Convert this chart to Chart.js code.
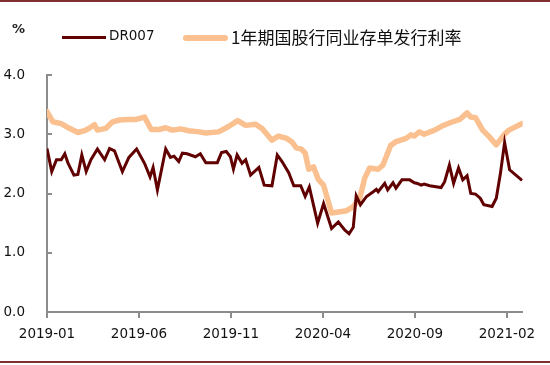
<!DOCTYPE html>
<html>
<head>
<meta charset="utf-8">
<script src="https://cdn.jsdelivr.net/npm/chart.js@4"></script>
<style>
  body { margin: 0; background: #fff; }
  #wrap { position: relative; width: 550px; height: 365px; overflow: hidden; }
  #wrap:before, #wrap:after { content: ""; position: absolute; left: 0; width: 550px; height: 2px; background: #7e2f2f; }
  #wrap:before { top: 0; }
  #wrap:after { top: 361px; }
  .unit { position: absolute; left: 12px; top: 21px; font: bold 13px "DejaVu Sans", sans-serif; color: #222; }
  .key { position: absolute; top: 27px; font: 13.5px "DejaVu Sans", sans-serif; color: #111; }
  .key i { position: absolute; top: 8px; height: 4px; }
  .cn { font: 17px "Noto Sans CJK SC", sans-serif; top: 24px; }
</style>
</head>
<body>
<div id="wrap">
  <canvas id="lineChart" width="550" height="365"></canvas>
  <div class="unit">%</div>
  <div class="key" style="left:62px"><i style="left:0;width:44px;background:#600000;height:3px;top:9px"></i><span style="margin-left:47px">DR007</span></div>
  <div class="key cn" style="left:183px"><i style="left:0;width:45px;background:#fac090;height:6px;top:11px;border-radius:3px"></i><span style="margin-left:48px">1年期国股行同业存单发行利率</span></div>
</div>
<script>
// DR007 (weekly)
const drDates = ["2019-01-01","2019-01-09","2019-01-17","2019-01-25","2019-01-31","2019-02-05","2019-02-14","2019-02-20","2019-02-26","2019-03-05","2019-03-13","2019-03-24","2019-04-05","2019-04-13","2019-04-21","2019-05-04","2019-05-15","2019-05-28","2019-06-10","2019-06-19","2019-06-24","2019-07-01","2019-07-15","2019-07-23","2019-07-29","2019-08-06","2019-08-12","2019-08-20","2019-09-03","2019-09-11","2019-09-20","2019-10-09","2019-10-16","2019-10-24","2019-10-31","2019-11-05","2019-11-11","2019-11-19","2019-11-25","2019-12-03","2019-12-17","2019-12-26","2020-01-08","2020-01-17","2020-01-25","2020-02-05","2020-02-13","2020-02-24","2020-03-02","2020-03-09","2020-03-23","2020-04-02","2020-04-15","2020-04-26","2020-05-07","2020-05-14","2020-05-21","2020-05-26","2020-06-02","2020-06-12","2020-06-23","2020-06-28","2020-07-01","2020-07-12","2020-07-17","2020-07-26","2020-07-31","2020-08-10","2020-08-23","2020-08-31","2020-09-05","2020-09-11","2020-09-16","2020-09-25","2020-10-14","2020-10-20","2020-10-28","2020-11-04","2020-11-12","2020-11-19","2020-11-26","2020-12-02","2020-12-10","2020-12-18","2020-12-24","2021-01-07","2021-01-14","2021-01-21","2021-01-28","2021-02-05","2021-02-24"];
const drValues = [2.76,2.37,2.57,2.57,2.67,2.51,2.31,2.32,2.65,2.37,2.57,2.75,2.57,2.76,2.72,2.37,2.61,2.75,2.51,2.28,2.44,2.06,2.75,2.61,2.63,2.54,2.68,2.67,2.62,2.67,2.52,2.52,2.69,2.71,2.62,2.41,2.65,2.51,2.57,2.31,2.44,2.14,2.13,2.65,2.54,2.35,2.13,2.13,1.95,2.11,1.50,1.83,1.41,1.52,1.38,1.32,1.43,1.96,1.81,1.95,2.03,2.07,2.03,2.17,2.06,2.18,2.09,2.23,2.23,2.18,2.17,2.14,2.16,2.13,2.10,2.20,2.48,2.17,2.43,2.23,2.30,2.00,1.99,1.92,1.81,1.78,1.92,2.34,2.86,2.40,2.22];

// 1-year NCD issuance rate
const cdDates = ["2019-01-01","2019-01-11","2019-01-25","2019-02-07","2019-02-20","2019-03-02","2019-03-10","2019-03-19","2019-03-24","2019-04-07","2019-04-18","2019-04-29","2019-05-13","2019-05-27","2019-06-10","2019-06-21","2019-07-04","2019-07-15","2019-07-26","2019-08-09","2019-08-23","2019-09-09","2019-09-20","2019-10-11","2019-10-28","2019-11-12","2019-11-25","2019-12-11","2019-12-22","2020-01-08","2020-01-19","2020-02-02","2020-02-10","2020-02-17","2020-02-25","2020-03-02","2020-03-08","2020-03-16","2020-03-24","2020-04-02","2020-04-15","2020-05-10","2020-05-21","2020-06-01","2020-06-09","2020-06-17","2020-07-01","2020-07-09","2020-07-22","2020-07-30","2020-08-17","2020-08-25","2020-08-31","2020-09-08","2020-09-16","2020-10-03","2020-10-14","2020-10-28","2020-11-14","2020-11-26","2020-12-02","2020-12-10","2020-12-22","2021-01-02","2021-01-14","2021-01-27","2021-02-04","2021-02-24"];
const cdValues = [3.38,3.21,3.18,3.10,3.03,3.06,3.10,3.16,3.07,3.10,3.21,3.24,3.25,3.25,3.29,3.08,3.08,3.11,3.07,3.09,3.06,3.04,3.02,3.04,3.13,3.23,3.15,3.17,3.10,2.90,2.97,2.93,2.87,2.77,2.75,2.68,2.41,2.45,2.24,2.14,1.67,1.71,1.78,1.92,2.26,2.43,2.41,2.48,2.81,2.87,2.93,2.99,2.97,3.04,3.00,3.07,3.13,3.19,3.25,3.36,3.29,3.28,3.07,2.96,2.82,2.99,3.07,3.18];

const tickLabels = ["2019-01","2019-06","2019-11","2020-04","2020-09","2021-02"];
const yTicks = [0, 1, 2, 3, 4];
const axisEnd = "2021-02-25";

// months since 2019-01-01
function toMonths(s) {
  const p = s.split("-").map(Number);
  const day = p[2] || 1;
  const dim = new Date(p[0], p[1], 0).getDate();
  return (p[0] - 2019) * 12 + (p[1] - 1) + (day - 1) / dim;
}

const axisColor = "#8c8c8c";
const fontFamily = "'DejaVu Sans', sans-serif";

// inward ticks like the original (y to the right, x downward)
const tickMarks = {
  id: "tickMarks",
  afterDraw(chart) {
    const { ctx, scales: { x, y } } = chart;
    ctx.save();
    ctx.strokeStyle = axisColor;
    ctx.lineWidth = 2;
    ctx.beginPath();
    yTicks.forEach(v => {
      const py = Math.round(y.getPixelForValue(v));
      ctx.moveTo(x.left, py);
      ctx.lineTo(x.left + 5, py);
    });
    tickLabels.forEach(t => {
      const px = Math.round(x.getPixelForValue(toMonths(t)));
      ctx.moveTo(px, y.bottom);
      ctx.lineTo(px, y.bottom + 6);
    });
    ctx.stroke();
    ctx.restore();
  }
};

new Chart(document.getElementById("lineChart"), {
  type: "line",
  data: {
    datasets: [
      {
        label: "DR007",
        data: drDates.map((d, i) => ({ x: toMonths(d), y: drValues[i] })),
        borderColor: "#600000",
        borderWidth: 3,
        pointRadius: 0,
        tension: 0
      },
      {
        label: "1年期国股行同业存单发行利率",
        data: cdDates.map((d, i) => ({ x: toMonths(d), y: cdValues[i] })),
        borderColor: "#fac090",
        borderWidth: 5.5,
        borderJoinStyle: "round",
        borderCapStyle: "round",
        pointRadius: 0,
        tension: 0
      }
    ]
  },
  options: {
    responsive: false,
    animation: false,
    layout: { padding: { top: 75, right: 25, left: 0, bottom: 0 } },
    plugins: { legend: { display: false }, tooltip: { enabled: false } },
    scales: {
      x: {
        type: "linear",
        min: 0,
        max: toMonths(axisEnd),
        afterBuildTicks: s => { s.ticks = tickLabels.map(t => ({ value: toMonths(t) })); },
        afterFit: s => { s.height = 53; },
        grid: { display: false, drawTicks: false },
        border: { display: true, color: axisColor, width: 2 },
        ticks: {
          autoSkip: false,
          maxRotation: 0,
          padding: 14,
          color: "#111",
          font: { family: fontFamily, size: 13.5 },
          callback: (v, i) => tickLabels[i]
        }
      },
      y: {
        min: 0,
        max: 4,
        afterBuildTicks: s => { s.ticks = yTicks.map(v => ({ value: v })); },
        afterFit: s => { s.width = 47; },
        grid: { display: false, drawTicks: false },
        border: { display: true, color: axisColor, width: 2 },
        ticks: {
          padding: 22,
          color: "#111",
          font: { family: fontFamily, size: 13.5 },
          callback: v => v.toFixed(1)
        }
      }
    }
  },
  plugins: [tickMarks]
});
</script>
</body>
</html>
